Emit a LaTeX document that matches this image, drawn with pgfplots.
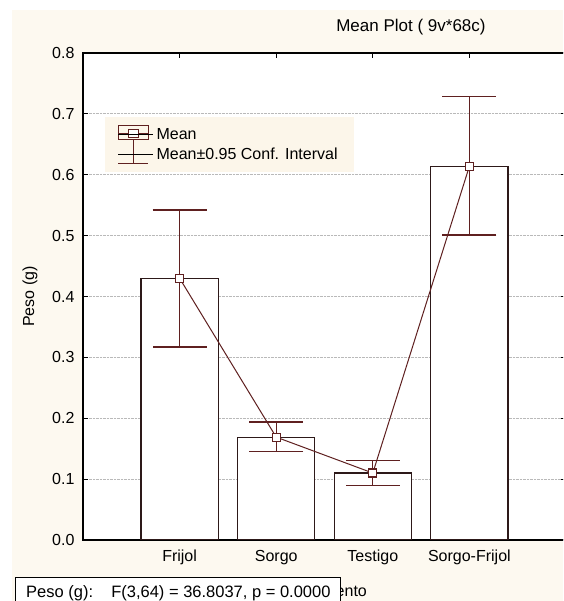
\documentclass[border=0pt]{standalone}
\usepackage{fontspec}
\setmainfont{Liberation Sans}
\usepackage{pgfplots}
\pgfplotsset{compat=1.18}
\definecolor{cream}{RGB}{253,249,240}
\definecolor{legbg}{RGB}{252,246,234}
\definecolor{maroon}{RGB}{95,32,32}
\definecolor{barcol}{RGB}{45,25,25}
\begin{document}
\begin{tikzpicture}[x=1pt,y=1pt,font=\fontsize{16}{19}\selectfont]
\useasboundingbox (0,0) rectangle (563,601);
\fill[white] (0,0) rectangle (563,601);
\fill[cream] (12,0) rectangle (563,591);
\begin{scope}
\clip (0,0) rectangle (563,601);
\begin{axis}[
  at={(83pt,61pt)}, anchor=south west,
  scale only axis, width=483pt, height=487pt,
  xmin=0, xmax=5, ymin=0, ymax=0.8,
  axis background/.style={fill=white},
  axis line style={line width=1.5pt, black},
  xtick={1,2,3,4},
  xticklabels={Frijol,Sorgo,Testigo,Sorgo-Frijol},
  ytick={0,0.1,0.2,0.3,0.4,0.5,0.6,0.7,0.8},
  yticklabels={0.0,0.1,0.2,0.3,0.4,0.5,0.6,0.7,0.8},
  tick align=inside, major tick length=5pt,
  tick style={black, line width=1pt},
  ymajorgrids,
  major grid style={densely dotted, gray!55, line width=0.9pt},
  xticklabel style={anchor=base, yshift=-22pt},
  yticklabel style={xshift=-5pt},
  xlabel={Tratamiento},
  xlabel style={at={(axis description cs:0.5,0)}, anchor=base, yshift=-56pt},
  ylabel={Peso (g)},
  ylabel style={at={(axis description cs:-0.1097,0.5)}, anchor=center},
  title={Mean Plot ( 9v*68c)},
  title style={at={(axis description cs:0.679,1)}, anchor=center, yshift=20pt,
    font=\fontsize{17}{20}\selectfont},
  legend style={at={(axis description cs:0.0455,0.8686)}, anchor=north west,
    draw=none, fill=legbg, inner xsep=13pt, inner ysep=8pt, row sep=1pt,
    font=\fontsize{16}{19}\selectfont,
    nodes={inner sep=3pt}},
  legend cell align=left,
]
\addlegendimage{legend image code/.code={
  \draw[overlay, maroon, line width=1.2pt] (0pt,-5pt) rectangle (30pt,9pt);
  \draw[overlay, maroon, line width=1.2pt] (0pt,1pt) -- (30pt,1pt);
  \draw[overlay, maroon, line width=1.2pt, fill=white] (10pt,-3pt) rectangle (20pt,5pt);
  \path (0pt,0pt) -- (35pt,0pt);
}}
\addlegendentry{Mean}
\addlegendimage{legend image code/.code={
  \draw[overlay, maroon, line width=1.2pt] (15pt,15pt) -- (15pt,-9pt);
  \draw[overlay, maroon, line width=1.2pt] (0pt,-9pt) -- (30pt,-9pt);
  \path (0pt,0pt) -- (35pt,0pt);
}}
\addlegendentry{Mean±0.95 Conf. Interval}
% bars
\addplot[ybar, bar width=0.8, bar shift=0pt, fill=white, draw=barcol, line width=1.2pt, forget plot]
  coordinates {(1,0.430) (2,0.169) (3,0.110) (4,0.614)};
% confidence intervals
\addplot[draw=none, mark=none, forget plot,
  error bars/.cd, y dir=both, y explicit,
  error bar style={line width=1.3pt, maroon},
  error mark=-,
  error mark options={rotate=90, line width=1.3pt, maroon, mark size=27pt}]
  table[x=x, y=y, y error plus=ep, y error minus=em] {
  x y ep em
  1 0.430 0.112 0.113
  2 0.169 0.025 0.024
  3 0.110 0.021 0.021
  4 0.614 0.115 0.113
};
% means
\addplot[maroon, line width=1pt, mark=square*, mark size=4pt,
  mark options={fill=white, draw=maroon, line width=1.1pt}, forget plot]
  coordinates {(1,0.430) (2,0.169) (3,0.110) (4,0.614)};
\end{axis}
\end{scope}
\filldraw[fill=white, draw=black, line width=1pt] (15,23) rectangle (340,-5);
\node[anchor=base west, inner sep=0pt, font=\fontsize{16.5}{19}\selectfont] at (26,4) {Peso (g):\hspace{1.1em}F(3,64) = 36.8037, p = 0.0000};
\end{tikzpicture}
\end{document}
